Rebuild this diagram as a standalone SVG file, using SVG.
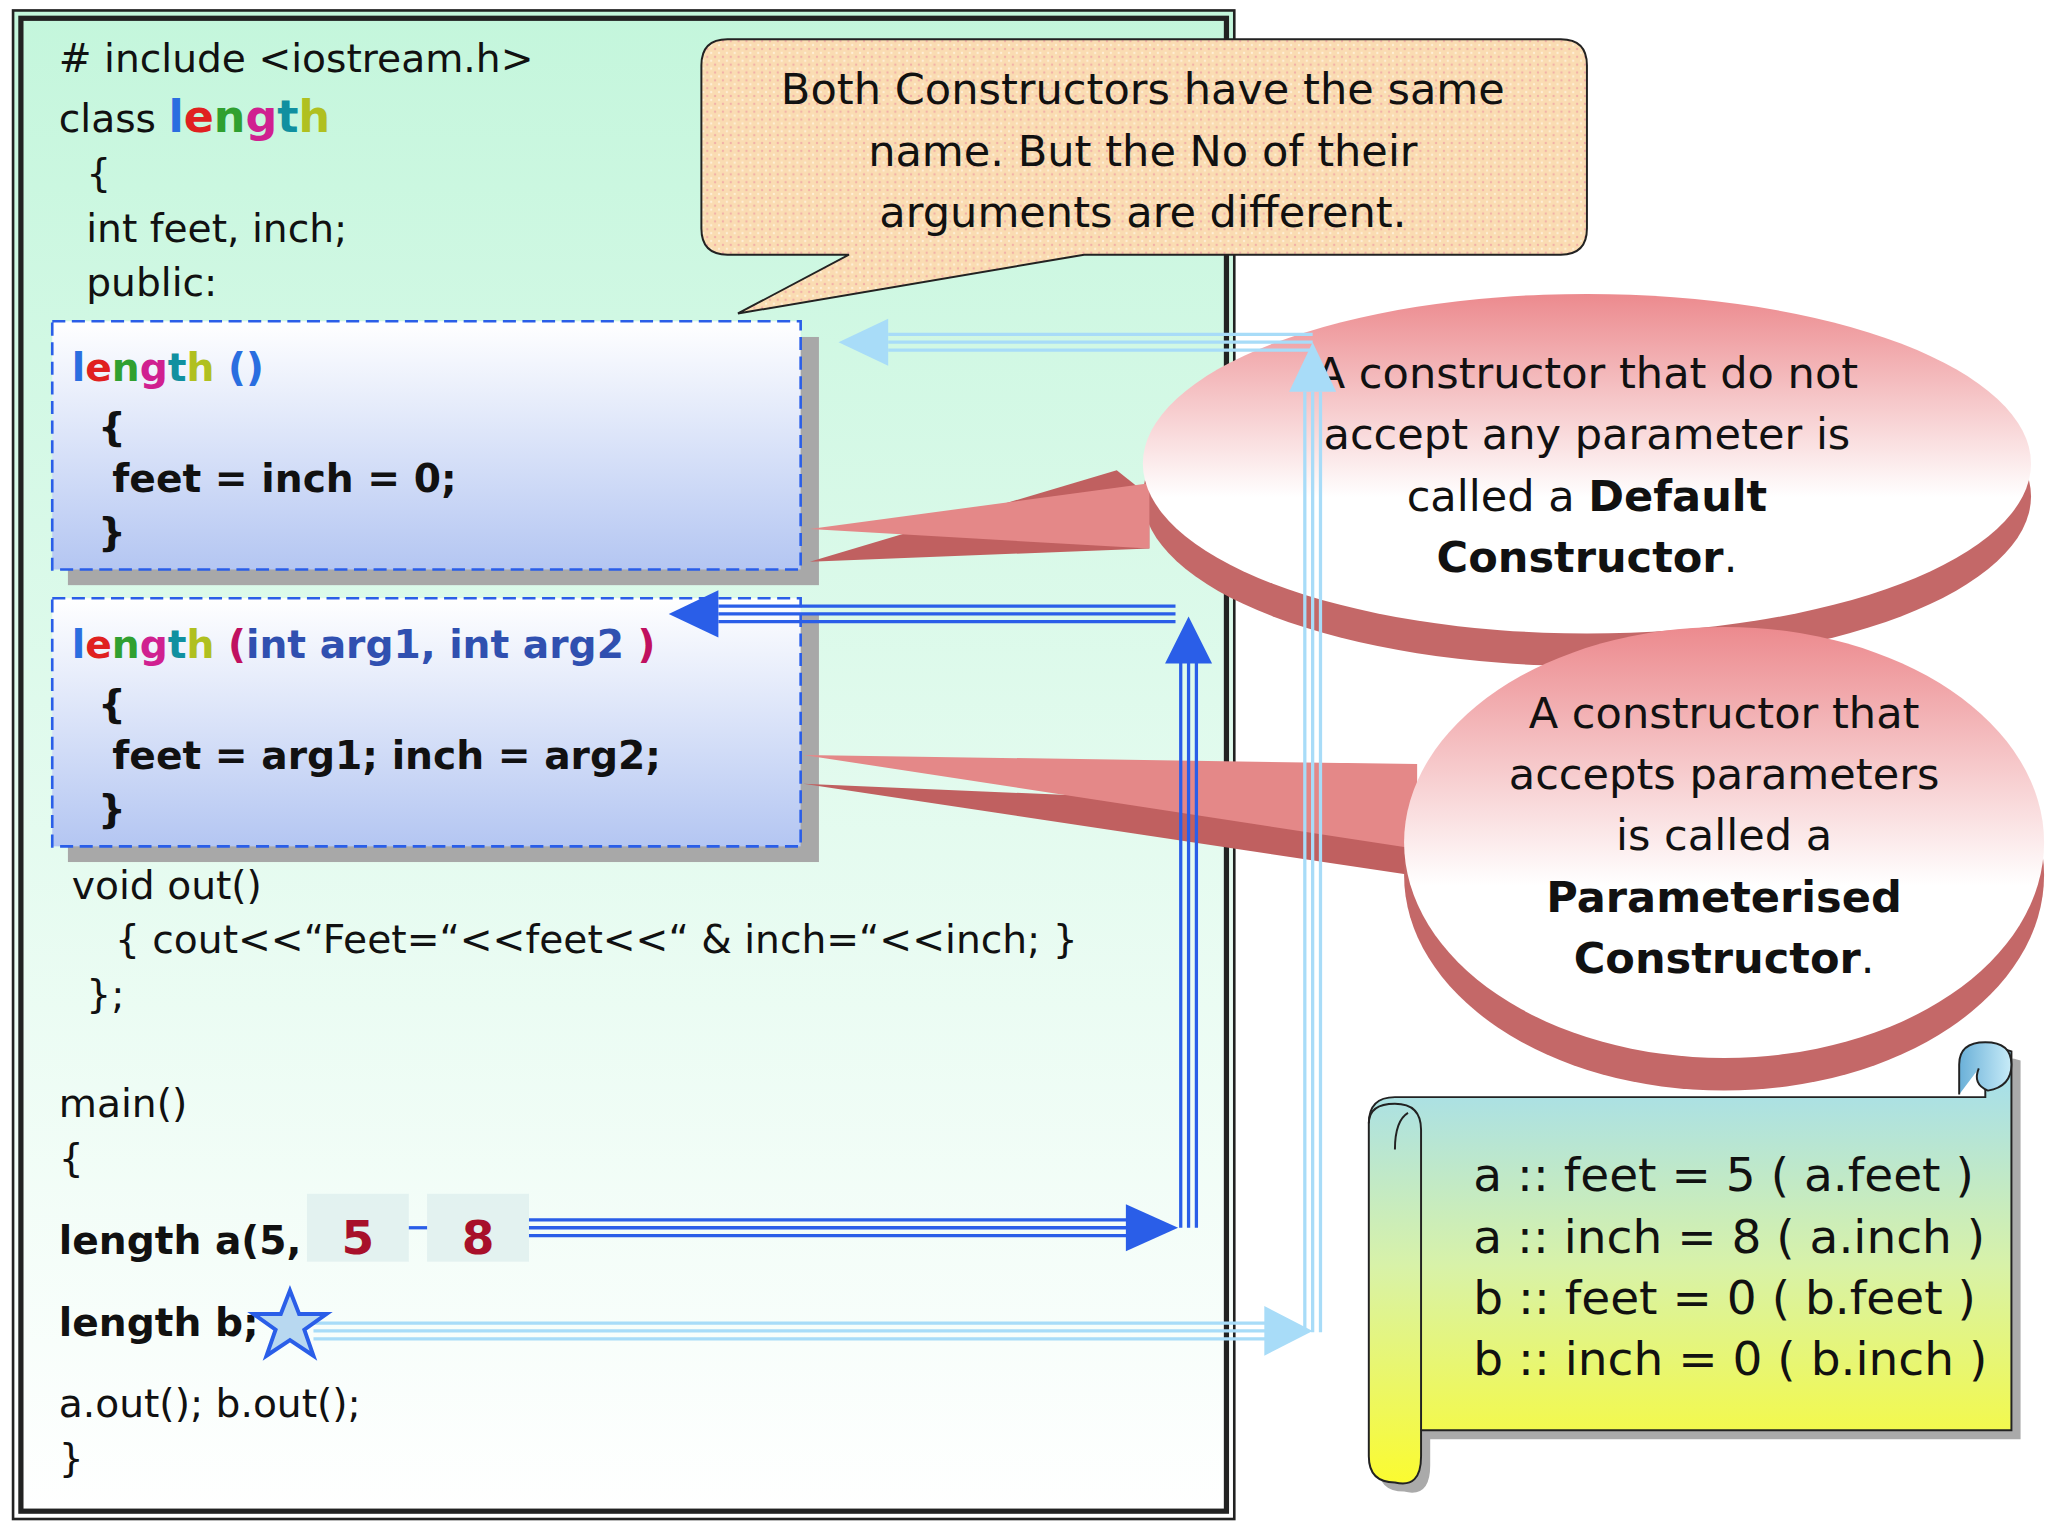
<svg xmlns="http://www.w3.org/2000/svg" width="2048" height="1536" viewBox="0 0 2048 1536">
<defs>
<linearGradient id="bg" x1="0" y1="0" x2="0" y2="1"><stop offset="0" stop-color="#c4f6dc"/><stop offset="1" stop-color="#ffffff"/></linearGradient>
<linearGradient id="box" x1="0" y1="0" x2="0" y2="1"><stop offset="0" stop-color="#ffffff"/><stop offset="1" stop-color="#b4c6f2"/></linearGradient>
<linearGradient id="red" x1="0" y1="0" x2="0" y2="1"><stop offset="0" stop-color="#ec8a8e"/><stop offset="0.6" stop-color="#ffffff"/><stop offset="1" stop-color="#fff"/></linearGradient>
<linearGradient id="scroll" x1="0" y1="0" x2="0" y2="1"><stop offset="0" stop-color="#9fdcf4"/><stop offset="0.5" stop-color="#d8f2a8"/><stop offset="1" stop-color="#fbfb30"/></linearGradient>
<linearGradient id="curl" x1="0" y1="0" x2="1" y2="0"><stop offset="0" stop-color="#6ab0d8"/><stop offset="1" stop-color="#c8ecf8"/></linearGradient>
<pattern id="dots" width="6" height="6" patternUnits="userSpaceOnUse"><rect width="6" height="6" fill="#fadcb2"/><circle cx="1.5" cy="1.5" r="0.9" fill="#f2b0a8"/><circle cx="4.5" cy="4.5" r="0.9" fill="#fff0d8"/></pattern>
</defs>
<style>
.t{font-family:Tahoma,"DejaVu Sans",sans-serif;font-size:30px;fill:#111}
.b{font-weight:bold}
.c{font-family:Tahoma,"DejaVu Sans",sans-serif;font-size:33px;fill:#111;text-anchor:middle}
.s{font-family:Tahoma,"DejaVu Sans",sans-serif;font-size:36px;fill:#111}
.v{font-family:Tahoma,"DejaVu Sans",sans-serif;font-size:36px;font-weight:bold;fill:#a8102a;text-anchor:middle}
</style>
<g transform="scale(1.30612)">
<g id="frame">
<rect x="10" y="8" width="935" height="1155" fill="url(#bg)" stroke="#222" stroke-width="2"/>
<rect x="16" y="14" width="923" height="1143" fill="none" stroke="#222" stroke-width="4"/>
</g>
<g id="code">
<text class="t" x="45" y="55"># include &lt;iostream.h&gt;</text>
<text class="t" x="45" y="101">class <tspan class="b" font-size="34"><tspan fill="#2a6ee0">l</tspan><tspan fill="#e02020">e</tspan><tspan fill="#30a030">n</tspan><tspan fill="#d02090">g</tspan><tspan fill="#1090a0">t</tspan><tspan fill="#b0c020">h</tspan></tspan></text>
<text class="t" x="66" y="143">{</text>
<text class="t" x="66" y="185">int feet, inch;</text>
<text class="t" x="66" y="227">public:</text>
<text class="t" x="55" y="688">void out()</text>
<text class="t" x="88" y="730">{ cout&lt;&lt;“Feet=“&lt;&lt;feet&lt;&lt;“ &amp; inch=“&lt;&lt;inch;  }</text>
<text class="t" x="66" y="772">};</text>
<text class="t" x="45" y="855">main()</text>
<text class="t" x="45" y="897">{</text>
<text class="t b" x="45" y="960">length a(5,</text>
<text class="t b" x="45" y="1023">length b;</text>
<text class="t" x="45" y="1085">a.out();   b.out();</text>
<text class="t" x="45" y="1127">}</text>
</g>
<g id="box1">
<rect x="52" y="258" width="575" height="190" fill="#a8a8a8"/>
<rect x="40" y="246" width="573" height="190" fill="url(#box)" stroke="#2a5ee8" stroke-width="2" stroke-dasharray="10,5"/>
<text class="t b" x="55" y="292" font-size="34"><tspan fill="#2a6ee0">l</tspan><tspan fill="#e02020">e</tspan><tspan fill="#30a030">n</tspan><tspan fill="#d02090">g</tspan><tspan fill="#1090a0">t</tspan><tspan fill="#b0c020">h</tspan><tspan fill="#2a6ee0"> ()</tspan></text>
<text class="t b" x="75" y="338">{</text>
<text class="t b" x="86" y="377">feet = inch = 0;</text>
<text class="t b" x="75" y="418">}</text>
</g>
<g id="box2">
<rect x="52" y="470" width="575" height="190" fill="#a8a8a8"/>
<rect x="40" y="458" width="573" height="190" fill="url(#box)" stroke="#2a5ee8" stroke-width="2" stroke-dasharray="10,5"/>
<text class="t b" x="55" y="504" font-size="34"><tspan fill="#2a6ee0">l</tspan><tspan fill="#e02020">e</tspan><tspan fill="#30a030">n</tspan><tspan fill="#d02090">g</tspan><tspan fill="#1090a0">t</tspan><tspan fill="#b0c020">h</tspan><tspan fill="#c01060"> (</tspan><tspan fill="#3050b0" font-size="30">int arg1, int arg2 </tspan><tspan fill="#c01060">)</tspan></text>
<text class="t b" x="75" y="550">{</text>
<text class="t b" x="86" y="589">feet = arg1; inch = arg2;</text>
<text class="t b" x="75" y="630">}</text>
</g>
<g id="vals">
<rect x="235" y="914" width="78" height="52" fill="#dcecec" opacity="0.7"/>
<rect x="327" y="914" width="78" height="52" fill="#dcecec" opacity="0.7"/>
<text class="v" x="274" y="960">5</text>
<text class="v" x="366" y="960">8</text>
</g>
<g id="callout1">
<path d="M567,30H1195Q1215,30 1215,50V175Q1215,195 1195,195H830L565,240L650,195H557Q537,195 537,175V50Q537,30 557,30Z" fill="url(#dots)" stroke="#222" stroke-width="1.5"/>
<text class="c" x="875" y="80">Both Constructors have the same</text>
<text class="c" x="875" y="127">name. But the No of their</text>
<text class="c" x="875" y="174">arguments are different.</text>
</g>
<g id="ellipse1">
<path d="M620,430L880,420L880,380L855,360Z" fill="#c06060"/>
<ellipse cx="1215" cy="380" rx="340" ry="130" fill="#c46868"/>
<path d="M620,405L880,370L880,420Z" fill="#e48888"/>
<ellipse cx="1215" cy="355" rx="340" ry="130" fill="url(#red)"/>
<text class="c" x="1215" y="297">A constructor that do not</text>
<text class="c" x="1215" y="344">accept any parameter is</text>
<text class="c" x="1215" y="391">called a <tspan font-weight="bold">Default</tspan></text>
<text class="c" x="1215" y="438"><tspan font-weight="bold">Constructor</tspan>.</text>
</g>
<g id="ellipse2">
<path d="M615,600L1080,670L1080,620Z" fill="#c06060"/>
<ellipse cx="1320" cy="670" rx="245" ry="165" fill="#c46868"/>
<path d="M615,578L1085,585L1085,650Z" fill="#e48888"/>
<ellipse cx="1320" cy="645" rx="245" ry="165" fill="url(#red)"/>
<text class="c" x="1320" y="557">A constructor that</text>
<text class="c" x="1320" y="604">accepts parameters</text>
<text class="c" x="1320" y="651">is called a</text>
<text class="c" x="1320" y="698" font-weight="bold">Parameterised</text>
<text class="c" x="1320" y="745"><tspan font-weight="bold">Constructor</tspan>.</text>
</g>
<g id="connectors">
<g stroke="#2a5ee8" fill="none" stroke-width="2.5">
<path d="M405,934H870M405,940H870M405,946H870"/>
<path d="M904,940V505M910,940V505M916,940V505"/>
<path d="M900,464H550M900,470H550M900,476H550"/>
<path d="M313,940H327"/>
</g>
<path d="M862,922L902,940L862,958z" fill="#2a5ee8"/>
<path d="M892,508L910,472L928,508z" fill="#2a5ee8"/>
<path d="M550,452L512,470L550,488z" fill="#2a5ee8"/>
<g stroke="#a8dcf8" fill="none" stroke-width="2.5">
<path d="M240,1013H975M240,1019H975M240,1025H975"/>
<path d="M999,1020V300M1005,1020V300M1011,1020V300"/>
<path d="M1005,256H680M1005,262H680M1005,268H680"/>
</g>
<path d="M968,1000L1005,1019L968,1038z" fill="#a8dcf8"/>
<path d="M987,300L1005,262L1023,300z" fill="#a8dcf8"/>
<path d="M680,244L642,262L680,280z" fill="#a8dcf8"/>
<path d="M222,988L229,1006L250,1006L233,1018L240,1038L222,1026L204,1038L211,1018L194,1006L215,1006z" style="fill:#b8d8f0;stroke:#2a5ee8;stroke-width:3"/>
</g>
<g id="scroll">
<path d="M1068,840H1520V818Q1520,798 1540,805V1095H1088V1115Q1088,1140 1068,1135Q1048,1135 1048,1115V860Q1048,840 1068,840Z" fill="#aaa" transform="translate(7,7)"/>
<path d="M1068,840H1520V818Q1520,798 1540,805V1095H1088V1115Q1088,1140 1068,1135Q1048,1135 1048,1115V860Q1048,840 1068,840Z" fill="url(#scroll)" stroke="#222" stroke-width="1.5"/>
<path d="M1500,838V815Q1500,798 1520,798Q1540,798 1540,815Q1540,832 1522,835Q1510,830 1515,818" fill="url(#curl)" stroke="#222" stroke-width="1.5"/>
<path d="M1048,860Q1048,845 1068,845Q1088,845 1088,865V1095" fill="none" stroke="#222" stroke-width="1.5"/>
<path d="M1068,880Q1068,858 1078,852" fill="none" stroke="#222" stroke-width="1.5"/>
<text class="s" x="1128" y="912">a :: feet = 5 ( a.feet )</text>
<text class="s" x="1128" y="959">a :: inch = 8 ( a.inch )</text>
<text class="s" x="1128" y="1006">b :: feet = 0 ( b.feet )</text>
<text class="s" x="1128" y="1053">b :: inch = 0 ( b.inch )</text>
</g>
</g>
</svg>
